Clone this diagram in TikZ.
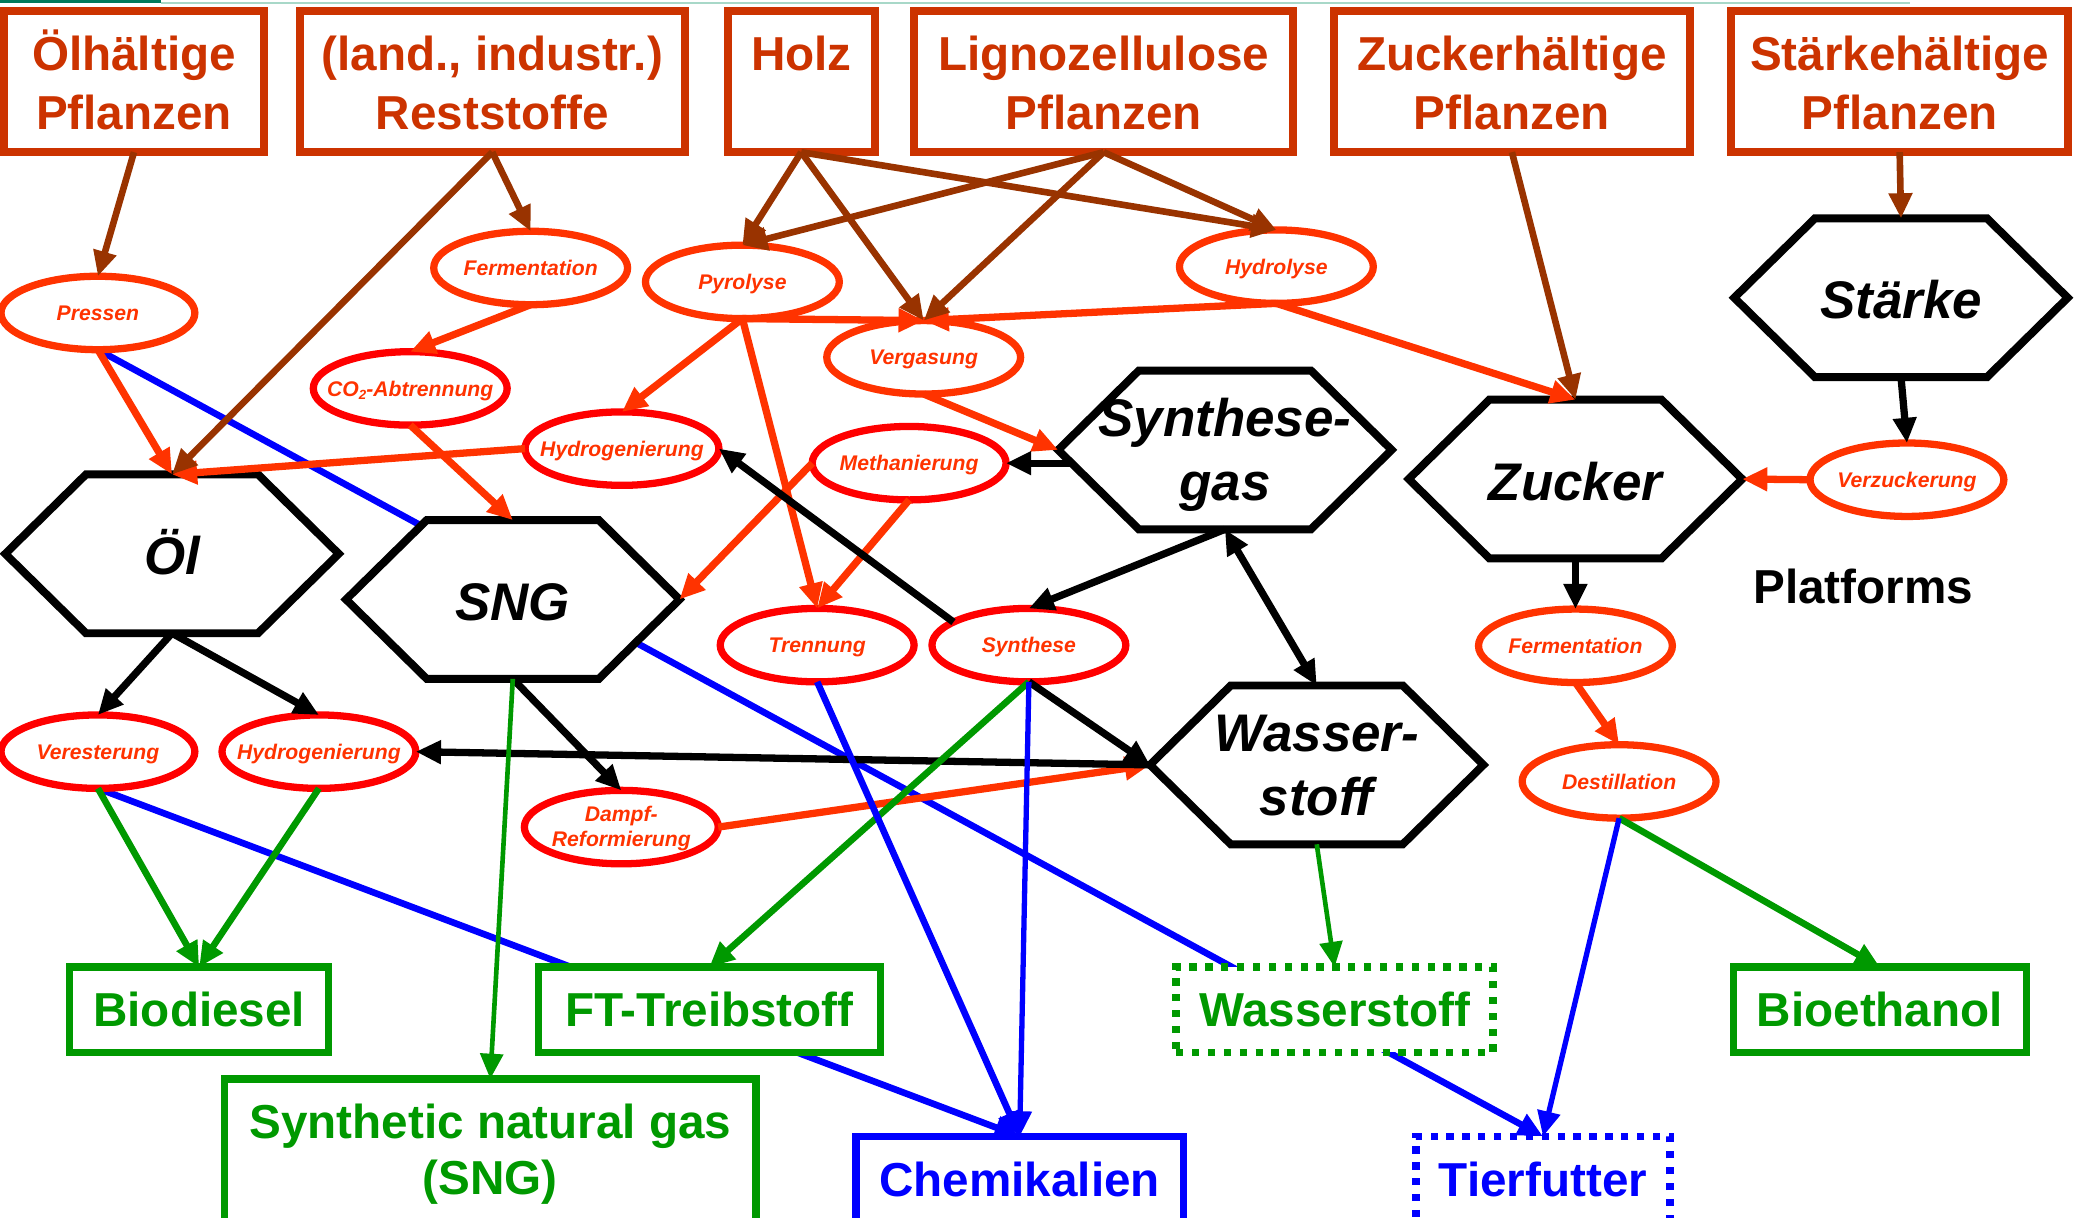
\documentclass[tikz,border=0pt]{standalone}
\usepackage{fontspec}
\setmainfont{Liberation Sans}
\usetikzlibrary{arrows.meta,shapes.geometric}

\pgfdeclarelayer{backlines}
\pgfdeclarelayer{hexlayer}
\pgfsetlayers{backlines,hexlayer,main}

\definecolor{srcred}{HTML}{CC3300}
\definecolor{srcbrown}{HTML}{993300}
\definecolor{procorange}{HTML}{FF3300}
\definecolor{procred}{HTML}{FF0000}
\definecolor{prodgreen}{HTML}{009900}
\definecolor{prodblue}{HTML}{0000FF}
\definecolor{barteal}{HTML}{007A5C}
\definecolor{barlight}{HTML}{A8D8C8}

% struts that fix the baselines of two-line labels
\newcommand\srcstrut{\rule[-8pt]{0pt}{44pt}}
\newcommand\hexstrut{\rule[-10pt]{0pt}{48pt}}
\newcommand\gasstrut{\rule[-12pt]{0pt}{42pt}}
\newcommand\dampfstrut{\rule[-4pt]{0pt}{19pt}}

% hexagonal outline around a platform node
\newcommand\hexoutline[1]{%
  \path[hexline] (#1.west) -- ([xshift=61pt]#1.north west)
    -- ([xshift=-61pt]#1.north east) -- (#1.east)
    -- ([xshift=-61pt]#1.south east) -- ([xshift=61pt]#1.south west) -- cycle;}

\tikzset{
  srcbox/.style={rectangle, draw=srcred, line width=6pt, fill=white, text=srcred,
    font=\fontsize{36}{44}\selectfont\bfseries, align=center,
    inner sep=0pt, outer sep=0pt, minimum height=107pt},
  ellbase/.style={ellipse, draw=procorange, line width=5.5pt, fill=white, text=procorange,
    font=\fontsize{16}{19}\selectfont\bfseries\itshape, align=center,
    inner sep=-30pt, outer sep=0pt, minimum width=146.5pt, minimum height=55.5pt},
  ell/.style={ellbase, text height=11.5pt, text depth=0pt},
  ellred/.style={ell, draw=procred},
  hexnode/.style={rectangle, inner sep=0pt, outer sep=0pt,
    minimum width=252pt, minimum height=120pt, align=center,
    font=\fontsize{40}{48}\selectfont\bfseries\itshape},
  hexone/.style={hexnode, text height=32pt, text depth=0pt},
  hexline/.style={draw=black, line width=6pt, fill=white, line join=miter},
  prodbase/.style={rectangle, draw=prodgreen, text=prodgreen, line width=5.5pt, fill=white,
    font=\fontsize{36}{42}\selectfont\bfseries, align=center,
    inner sep=0pt, outer sep=0pt, minimum height=64.5pt},
  prodbox/.style={prodbase, text height=26pt, text depth=0pt},
  bluebox/.style={prodbox, draw=prodblue, text=prodblue},
  dotline/.style={dash pattern=on 5.5pt off 6.5pt},
  brownlink/.style={->, draw=srcbrown, line width=5pt},
  orangelink/.style={->, draw=procorange, line width=5.5pt},
  blacklink/.style={->, draw=black, line width=5.5pt},
  greenlink/.style={->, draw=prodgreen, line width=5pt},
  greenthin/.style={->, draw=prodgreen, line width=3.5pt},
  bluelink/.style={->, draw=prodblue, line width=5pt},
  bluethin/.style={->, draw=prodblue, line width=4pt},
}

\begin{document}
\begin{tikzpicture}[x=1pt, y=-1pt, >={Triangle[length=19pt,width=17pt]}]
\useasboundingbox (0,0) rectangle (1568,920);
\begin{pgfonlayer}{backlines}
  \fill[white] (0,0) rectangle (1568,920);
\end{pgfonlayer}

% header rules
\fill[barteal] (0,0) rectangle (122,2.5);
\fill[barlight] (122,1.2) rectangle (1443,3.2);

% raw materials
\node[srcbox, minimum width=196.5pt] (oelpfl) at (101.25,61.5) {\srcstrut Ölhältige\\\srcstrut Pflanzen};
\node[srcbox, minimum width=291pt] (rest) at (372,61.5) {\srcstrut (land., industr.)\\\srcstrut Reststoffe};
\node[srcbox, minimum width=111pt] (holz) at (605.5,61.5) {\srcstrut Holz\\\srcstrut};
\node[srcbox, minimum width=286pt] (ligno) at (834,61.5) {\srcstrut Lignozellulose\\\srcstrut Pflanzen};
\node[srcbox, minimum width=269pt] (zuckpfl) at (1142.5,61.5) {\srcstrut Zuckerhältige\\\srcstrut Pflanzen};
\node[srcbox, minimum width=255pt] (staerkpfl) at (1435.5,61.5) {\srcstrut Stärkehältige\\\srcstrut Pflanzen};

% conversion processes
\node[ell] (pressen) at (74,236.5) {Pressen};
\node[ell] (ferm1) at (401,202.5) {Fermentation};
\node[ell] (pyro) at (561,213) {Pyrolyse};
\node[ell] (hydrol) at (964.5,201.5) {Hydrolyse};
\node[ell] (verg) at (698,270) {Vergasung};
\node[ellred] (co2) at (310,293.5) {CO\raisebox{-3pt}{\fontsize{10}{10}\selectfont 2}-Abtrennung};
\node[ellred] (hydro1) at (470,339) {Hydrogenierung};
\node[ellred] (methan) at (687,350) {Methanierung};
\node[ellred] (trenn) at (617.5,487.5) {Trennung};
\node[ellred] (synth) at (777.5,487.5) {Synthese};
\node[ellred] (verest) at (74,568) {Veresterung};
\node[ellred] (hydro2) at (241,568) {Hydrogenierung};
\node[ellbase, draw=procred] (dampf) at (469.5,625) {\dampfstrut Dampf-\\\dampfstrut Reformierung};
\node[ell] (verz) at (1441,362.5) {Verzuckerung};
\node[ell] (ferm2) at (1190.5,488) {Fermentation};
\node[ell] (destill) at (1223.5,590.5) {Destillation};

% platforms
\node[hexone] (oel) at (130,418.5) {Öl};
\node[hexone] (sng) at (387.5,453) {SNG};
\node[hexnode] (sgas) at (925.6,340) {\hexstrut Synthese-\\\hexstrut gas};
\node[hexnode] (wst) at (995,578) {\hexstrut Wasser-\\\hexstrut stoff};
\node[hexone] (zucker) at (1190.5,362) {Zucker};
\node[hexone] (staerke) at (1436.5,225) {Stärke};
\begin{pgfonlayer}{hexlayer}
  \hexoutline{oel}
  \hexoutline{sng}
  \hexoutline{sgas}
  \hexoutline{wst}
  \hexoutline{zucker}
  \hexoutline{staerke}
\end{pgfonlayer}

\node[font=\fontsize{36}{42}\selectfont\bfseries, text height=26pt, text depth=0pt, inner sep=0pt]
  (platforms) at (1408,443) {Platforms};

% products
\node[prodbox, minimum width=195.5pt] (biodiesel) at (150.5,763) {Biodiesel};
\node[prodbox, minimum width=258.5pt] (ft) at (536,763) {FT-Treibstoff};
\node[prodbox, dotline, minimum width=239.5pt] (wbox) at (1008.5,763) {Wasserstoff};
\node[prodbox, minimum width=221.5pt] (bioeth) at (1420.5,763) {Bioethanol};
\node[prodbase, anchor=north, minimum width=401.5pt, minimum height=114.5pt] (snggas)
  at (370.5,815.25) {\gasstrut Synthetic natural gas\\\gasstrut (SNG)};
\node[bluebox, minimum width=247.5pt] (chem) at (770.5,891) {Chemikalien};
\node[bluebox, dotline, minimum width=192pt] (tierf) at (1166,891) {Tierfutter};

% lines that run behind platforms and product boxes
\begin{pgfonlayer}{backlines}
  \draw[bluelink] (pressen.south) -- (tierf.north);
  \draw[bluelink] (verest.south) -- (chem.north);
\end{pgfonlayer}

% process routes
\draw[orangelink] (pressen.south) -- (oel.north);
\draw[orangelink] (ferm1.south) -- (co2.north);
\draw[orangelink] (co2.south) -- (sng.north);
\draw[orangelink] (hydro1.west) -- (oel.north);
\draw[orangelink] (pyro.south) -- (hydro1.north);
\draw[orangelink] (pyro.south) -- (trenn.north);
\draw[orangelink] (pyro.south) -- (verg.north);
\draw[orangelink] (hydrol.south) -- (verg.north);
\draw[orangelink] (hydrol.south) -- (zucker.north);
\draw[orangelink] (verg.south) -- (sgas.west);
\draw[orangelink] (methan.west) -- (sng.east);
\draw[orangelink] (methan.south) -- (trenn.north);
\draw[orangelink] (verz.west) -- (zucker.east);
\draw[orangelink] (ferm2.south) -- (destill.north);
\draw[orangelink] (dampf.east) -- (wst.west);

% feedstock routes
\draw[brownlink] (oelpfl.south) -- (pressen.north);
\draw[brownlink] (rest.south) -- (ferm1.north);
\draw[brownlink] (rest.south) -- (oel.north);
\draw[brownlink] (holz.south) -- (pyro.north);
\draw[brownlink] (holz.south) -- (verg.north);
\draw[brownlink] (holz.south) -- (hydrol.north);
\draw[brownlink] (ligno.south) -- (pyro.north);
\draw[brownlink] (ligno.south) -- (verg.north);
\draw[brownlink] (ligno.south) -- (hydrol.north);
\draw[brownlink] (zuckpfl.south) -- (zucker.north);
\draw[brownlink] (staerkpfl.south) -- (staerke.north);

% platform routes
\draw[blacklink] (staerke.south) -- (verz.north);
\draw[blacklink] (zucker.south) -- (ferm2.north);
\draw[blacklink] ([xshift=10pt,yshift=-10pt]sgas.west) -- (methan.east);
\draw[blacklink] (sgas.south) -- (synth.north);
\draw[blacklink, <->] (sgas.south) -- (wst.north);
\draw[blacklink] (synth.163) -- (hydro1.east);
\draw[blacklink] (synth.south) -- (wst.west);
\draw[blacklink] (wst.west) -- (hydro2.east);
\draw[blacklink] (oel.south) -- (verest.north);
\draw[blacklink] (oel.south) -- (hydro2.north);
\draw[blacklink] (sng.south) -- (dampf.north);

% fuels
\draw[greenlink] (verest.south) -- (biodiesel.north);
\draw[greenlink] (hydro2.south) -- (biodiesel.north);
\draw[greenthin] (sng.south) -- (snggas.north);
\draw[greenlink] (synth.south) -- (ft.north);
\draw[greenthin] (wst.south) -- (wbox.north);
\draw[greenlink] (destill.south) -- (bioeth.north);

% chemicals and feed
\draw[bluelink] (trenn.south) -- (chem.north);
\draw[bluethin] (synth.south) -- (chem.north);
\draw[bluethin] (destill.south) -- (tierf.north);
\end{tikzpicture}
\end{document}
